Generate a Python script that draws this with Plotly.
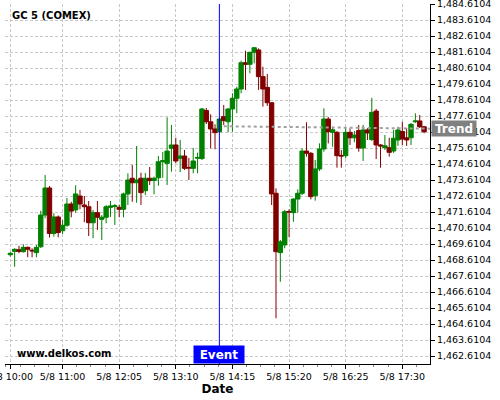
import plotly.graph_objects as go

# ---- data ----
day = "2013-05-08"
times = [
    "10:00","10:05","10:10","10:15","10:20","10:25","10:30","10:35","10:40","10:45","10:50","10:55",
    "11:00","11:05","11:10","11:15","11:20","11:25","11:30","11:35","11:40","11:45","11:50","11:55",
    "12:00","12:05","12:10","12:15","12:20","12:25","12:30","12:35","12:40","12:45","12:50","12:55",
    "13:00","13:05","13:10","13:15","13:20","13:25","13:30","13:35","13:40","13:45","13:50","13:55",
    "14:00","14:05","14:10","14:15","14:20","14:25","14:30","14:35","14:40","14:45","14:50","14:55",
    "15:00","15:05","15:10","15:15","15:20","15:25","15:30","15:35","15:40","15:45","15:50","15:55",
    "16:00","16:05","16:10","16:15","16:20","16:25","16:30","16:35","16:40","16:45","16:50","16:55",
    "17:00","17:05","17:10","17:15","17:20","17:25","17:30","17:35","17:40","17:45","17:50","17:55",
]
open_ = [
    1468.94, 1469.15, 1469.25, 1469.13, 1469.40, 1469.22, 1469.07, 1469.44, 1471.42, 1473.11, 1470.27, 1471.30,
    1470.44, 1470.78, 1472.11, 1471.74, 1472.61, 1472.05, 1471.94, 1470.94, 1471.57, 1471.15, 1471.28, 1471.90,
    1471.95, 1471.90, 1471.78, 1472.74, 1473.72, 1473.44, 1473.72, 1472.94, 1473.72, 1473.58, 1473.75, 1474.75,
    1474.65, 1475.59, 1475.80, 1474.97, 1475.11, 1474.40, 1474.34, 1474.97, 1474.95, 1477.95, 1477.25, 1476.80,
    1476.63, 1477.57, 1477.25, 1478.05, 1478.72, 1479.30, 1480.94, 1480.84, 1481.59, 1481.74, 1480.07, 1479.40,
    1478.44, 1472.78, 1469.07, 1469.55, 1471.64, 1471.57, 1472.42, 1472.78, 1475.42, 1475.28, 1472.63, 1474.30,
    1475.55, 1477.42, 1476.59, 1476.59, 1475.15, 1475.13, 1476.59, 1476.25, 1476.70, 1475.61, 1476.74, 1476.14,
    1477.92, 1475.80, 1475.63, 1475.63, 1475.42, 1476.11, 1476.64, 1476.25, 1476.25, 1477.25, 1477.30, 1476.94,
]
high = [
    1469.11, 1469.34, 1469.50, 1469.59, 1469.45, 1469.34, 1469.55, 1471.69, 1473.92, 1473.24, 1471.53, 1471.39,
    1471.11, 1472.49, 1472.25, 1473.28, 1472.99, 1472.61, 1472.30, 1471.74, 1472.30, 1471.42, 1472.05, 1472.30,
    1472.11, 1472.05, 1472.82, 1474.03, 1474.55, 1475.74, 1474.07, 1474.05, 1474.42, 1473.82, 1475.11, 1475.36,
    1477.53, 1477.05, 1476.25, 1476.11, 1475.49, 1474.99, 1475.61, 1475.32, 1478.11, 1478.11, 1477.72, 1477.09,
    1477.52, 1478.30, 1478.09, 1479.03, 1479.44, 1481.07, 1481.69, 1481.63, 1481.90, 1481.84, 1480.69, 1480.24,
    1478.44, 1473.09, 1469.86, 1471.74, 1471.78, 1472.47, 1473.03, 1475.59, 1477.22, 1475.36, 1474.86, 1475.90,
    1478.09, 1477.55, 1476.94, 1476.67, 1475.49, 1476.84, 1476.84, 1476.67, 1477.05, 1477.05, 1476.86, 1478.75,
    1478.05, 1475.86, 1476.42, 1476.25, 1476.74, 1476.94, 1477.25, 1476.86, 1477.17, 1477.78, 1477.67, 1476.98,
]
low = [
    1468.82, 1468.19, 1469.03, 1469.08, 1468.78, 1468.78, 1468.78, 1469.36, 1471.22, 1470.02, 1470.07, 1470.03,
    1470.24, 1470.69, 1471.28, 1471.57, 1471.78, 1470.97, 1470.11, 1469.97, 1470.49, 1469.86, 1470.90, 1471.30,
    1470.80, 1471.28, 1471.28, 1472.05, 1472.25, 1472.19, 1472.05, 1472.67, 1473.30, 1472.72, 1473.25, 1473.74,
    1473.30, 1474.13, 1474.65, 1474.11, 1474.24, 1473.61, 1474.03, 1474.03, 1474.86, 1477.11, 1475.59, 1475.53,
    1476.55, 1477.05, 1476.59, 1476.63, 1477.78, 1479.03, 1479.24, 1480.28, 1480.90, 1479.24, 1478.19, 1478.24,
    1472.05, 1464.97, 1467.25, 1469.34, 1470.03, 1471.00, 1471.57, 1472.67, 1475.07, 1472.40, 1472.32, 1474.17,
    1475.38, 1475.90, 1475.69, 1474.38, 1474.38, 1474.97, 1475.80, 1475.97, 1475.38, 1474.80, 1476.11, 1476.05,
    1474.92, 1474.38, 1475.49, 1475.07, 1475.30, 1475.75, 1475.80, 1475.74, 1475.80, 1477.17, 1476.86, 1476.53,
]
close = [
    1469.03, 1469.28, 1469.15, 1469.40, 1469.28, 1469.18, 1469.40, 1471.42, 1473.11, 1470.27, 1471.30, 1470.33,
    1470.78, 1472.11, 1471.67, 1472.74, 1472.11, 1471.94, 1470.94, 1471.57, 1471.28, 1471.28, 1471.94, 1471.99,
    1472.00, 1471.78, 1472.74, 1473.61, 1473.44, 1473.61, 1472.82, 1473.72, 1473.57, 1473.72, 1474.75, 1474.82,
    1475.42, 1475.80, 1474.80, 1475.11, 1474.34, 1474.36, 1474.80, 1475.02, 1478.05, 1477.25, 1476.80, 1476.57,
    1477.42, 1477.32, 1478.05, 1478.72, 1479.30, 1480.94, 1480.84, 1481.59, 1481.88, 1480.07, 1479.30, 1478.44,
    1472.74, 1469.13, 1469.75, 1471.63, 1471.61, 1472.42, 1472.78, 1475.42, 1475.28, 1472.57, 1474.30, 1475.55,
    1477.42, 1476.63, 1476.75, 1475.13, 1475.11, 1476.59, 1476.25, 1476.42, 1475.61, 1476.74, 1476.55, 1477.84,
    1475.80, 1475.74, 1475.75, 1475.34, 1476.22, 1476.74, 1476.17, 1476.11, 1477.09, 1477.30, 1476.94, 1476.63,
]

tick_times = ["10:00", "11:00", "12:05", "13:10", "14:15", "15:20", "16:25", "17:30"]
tick_labels = ["5/8 10:00", "5/8 11:00", "5/8 12:05", "5/8 13:10",
               "5/8 14:15", "5/8 15:20", "5/8 16:25", "5/8 17:30"]

event_time = "14:00"
trend_times = ["14:05", "18:01:48"]
trend_values = [1476.97, 1476.82]

x_range = ["09:53:55", "18:01:48"]
y_range = [1462.1104, 1484.6104]
y_tick0 = 1462.6104

# ---- figure ----
def ts(t):
    return f"{day} {t}"

x = [ts(t) for t in times]
font_family = "DejaVu Sans"

fig = go.Figure()
fig.add_trace(go.Candlestick(
    x=x, open=open_, high=high, low=low, close=close,
    increasing=dict(line=dict(color="#008000", width=1), fillcolor="#008000"),
    decreasing=dict(line=dict(color="#800000", width=1), fillcolor="#800000"),
    whiskerwidth=0, showlegend=False, hoverinfo="skip",
))
fig.add_trace(go.Scatter(
    x=[ts(t) for t in trend_times], y=trend_values, mode="lines",
    line=dict(color="#a0a0a0", width=2, dash="dot"),
    showlegend=False, hoverinfo="skip",
))

grid = dict(showgrid=True, gridcolor="#c8c8c8", gridwidth=1, griddash="3px,2px")

fig.update_layout(
    width=500, height=400,
    margin=dict(l=5, r=70, t=4, b=36),
    paper_bgcolor="white", plot_bgcolor="white",
    boxgap=0.0, boxgroupgap=0.0,
    font=dict(family=font_family, size=10, color="black"),
    xaxis=dict(
        type="date", range=[ts(x_range[0]), ts(x_range[1])],
        automargin=False, ticklabeloverflow="allow",
        rangeslider=dict(visible=False),
        tickmode="array", tickvals=[ts(t) for t in tick_times], ticktext=tick_labels,
        ticks="outside", ticklen=4, tickcolor="black",
        tickfont=dict(family=font_family, size=9.5, color="black"),
        minor=dict(ticks="outside", ticklen=2, tickcolor="#808080",
                   tick0=ts("11:00"), dtick=16.25 * 60 * 1000, showgrid=False),
        showline=True, linecolor="black", linewidth=1, zeroline=False,
        title=dict(text="<b>Date</b>", font=dict(family=font_family, size=12, color="black"),
                   standoff=2),
        **grid,
    ),
    yaxis=dict(
        side="right", range=y_range, automargin=False, ticklabeloverflow="allow",
        tick0=y_tick0, dtick=1, tickformat=",.4f",
        ticks="outside", ticklen=4, tickcolor="black",
        tickfont=dict(family=font_family, size=9.5, color="black"),
        showline=True, linecolor="black", linewidth=1, zeroline=False,
        **grid,
    ),
    shapes=[dict(type="line", xref="x", yref="paper",
                 x0=ts(event_time), x1=ts(event_time), y0=0, y1=1,
                 line=dict(color="#0000ff", width=1), layer="above")],
    annotations=[
        dict(text="<b>GC 5 (COMEX)</b>", xref="paper", yref="paper",
             x=0.0118, y=0.968, xanchor="left", yanchor="middle", showarrow=False,
             font=dict(family=font_family, size=10, color="black")),
        dict(text="<b>www.delkos.com</b>", xref="paper", yref="paper",
             x=0.0235, y=0.028, xanchor="left", yanchor="middle", showarrow=False,
             font=dict(family=font_family, size=10, color="black")),
        dict(text="<b>Event</b>", xref="x", yref="paper",
             x=ts(event_time), y=0, xanchor="center", yanchor="bottom", showarrow=False,
             bgcolor="#0000ff", width=50, height=17, borderpad=0,
             font=dict(family=font_family, size=12, color="white")),
        dict(text="<b>Trend</b>", xref="paper", yref="y",
             x=1, y=trend_values[-1], xanchor="left", yanchor="middle", xshift=1,
             showarrow=False, bgcolor="#808080", width=44, height=15, borderpad=0,
             font=dict(family=font_family, size=12, color="white")),
    ],
)

fig.write_html("out.html", config={"displayModeBar": False},
               post_script="document.body.style.margin='0px';")
